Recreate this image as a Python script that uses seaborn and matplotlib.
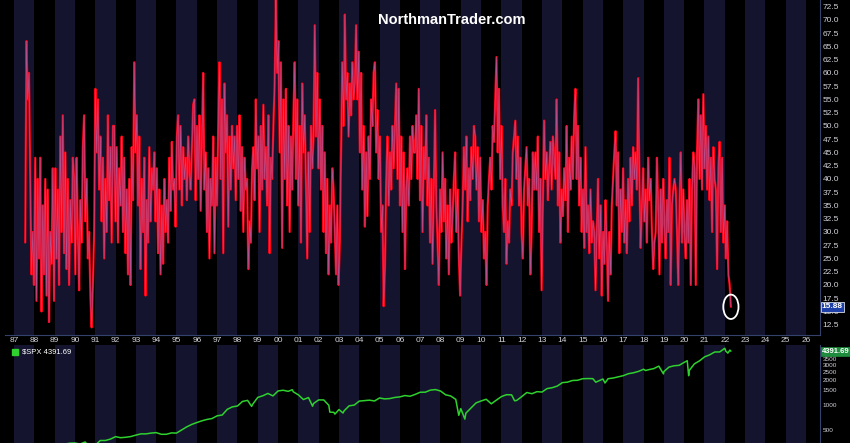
import numpy as np
import matplotlib
matplotlib.use("Agg")
import matplotlib.pyplot as plt
import seaborn as sns
from matplotlib.patches import Ellipse
from matplotlib import ticker

# AAII style bullish % readings (about 16 readings per year)
bull_1987_1995 = [
    28, 66, 55, 60, 40, 22, 30,
    20, 44, 17, 40, 25, 44, 15, 35, 22, 40, 18, 38, 13, 30, 24, 42,
    17, 42, 25, 38, 20, 48, 30, 52, 26, 45, 23, 40, 20, 36, 28, 44,
    40, 22, 44, 30, 19, 36, 28, 46, 52, 32, 40, 25, 30, 18, 12, 20,
    30, 57, 45, 55, 38, 48, 32, 44, 25, 40, 30, 52, 36, 46, 28, 50,
    50, 32, 46, 28, 42, 35, 48, 30, 44, 26, 38, 22, 40, 20, 46, 36,
    62, 45, 52, 35, 48, 23, 40, 30, 44, 18, 36, 28, 46, 32, 42, 38,
    45, 32, 42, 26, 38, 22, 35, 24, 40, 30, 36, 28, 44, 34, 47, 38,
    40, 31, 48, 52, 38, 50, 35, 46, 40, 44, 36, 48, 42, 38, 46, 54,
]
bull_1996_2005 = [
    55, 36, 50, 40, 52, 34, 48, 60, 38, 45, 30, 42, 25, 40, 35, 48,
    26, 44, 35, 50, 62, 40, 55, 26, 58, 45, 52, 31, 48, 38, 50, 42,
    48, 36, 50, 40, 52, 34, 46, 30, 44, 38, 40, 23, 32, 28, 42, 46,
    36, 55, 42, 48, 30, 50, 38, 54, 40, 46, 35, 52, 26, 44, 40, 50,
    58, 74, 60, 66, 45, 62, 27, 55, 40, 57, 35, 50, 30, 48, 38, 52,
    62, 40, 55, 35, 50, 28, 58, 45, 52, 38, 25, 45, 30, 50, 42, 48,
    69, 48, 60, 42, 55, 38, 50, 30, 45, 26, 40, 22, 35, 28, 42, 38,
    30, 22, 35, 20, 28, 45, 62, 50, 71, 55, 60, 48, 58, 52, 62, 55,
    58, 69, 55, 64, 45, 60, 38, 50, 31, 45, 33, 48, 40, 55, 50, 60,
    62, 45, 53, 40, 48, 30, 35, 16, 23, 40, 48, 35, 45, 38, 50, 42,
]
bull_2006_2015 = [
    50, 58, 40, 57, 35, 48, 30, 45, 23, 38, 42, 35, 48, 40, 50, 45,
    45, 52, 40, 57, 36, 50, 30, 46, 40, 52, 35, 44, 28, 40, 24, 38,
    53, 35, 28, 20, 38, 30, 45, 32, 40, 25, 35, 22, 38, 28, 33, 40,
    45, 30, 38, 25, 18, 28, 35, 46, 38, 48, 32, 42, 36, 46, 40, 50,
    48, 38, 46, 32, 44, 30, 36, 25, 30, 20, 35, 40, 44, 38, 50, 47,
    55, 63, 45, 57, 40, 50, 35, 30, 40, 24, 32, 28, 38, 35, 45, 48,
    51, 40, 48, 35, 44, 30, 25, 38, 42, 46, 35, 40, 22, 30, 45, 38,
    45, 38, 48, 30, 40, 19, 35, 51, 40, 45, 36, 42, 47, 38, 48, 44,
    40, 55, 35, 45, 28, 38, 33, 42, 36, 50, 30, 44, 38, 48, 40, 52,
    57, 40, 50, 35, 44, 30, 38, 27, 46, 30, 35, 26, 38, 28, 32, 30,
]
bull_2016_2022 = [
    19, 30, 40, 25, 35, 18, 30, 24, 36, 28, 17, 30, 22, 35, 40, 45,
    49, 35, 45, 26, 38, 30, 42, 28, 36, 26, 40, 32, 44, 35, 46, 40,
    45, 38, 59, 40, 27, 35, 42, 32, 38, 28, 44, 36, 40, 30, 23, 28,
    30, 44, 35, 22, 38, 28, 40, 32, 25, 36, 30, 44, 20, 35, 38, 40,
    38, 30, 20, 35, 45, 28, 38, 30, 25, 36, 28, 40, 20, 38, 45, 42,
    20, 45, 55, 40, 52, 38, 56, 42, 50, 38, 48, 36, 44, 30, 46, 40,
    38, 23, 42, 47, 30, 44, 28, 35, 25, 32, 22, 20, 15.88,
]
bull_first, bull_last = 1987.55, 2022.3

# S&P 500 closes (decimal year, value)
spx_dates = [
    1987.0, 1987.25, 1987.6, 1987.8, 1988.0, 1988.25, 1988.5, 1988.75,
    1989.0, 1989.25, 1989.5, 1989.75, 1990.0, 1990.25, 1990.5, 1990.8,
    1991.0, 1991.25, 1991.5, 1991.75, 1992.0, 1992.25, 1992.5, 1992.75,
    1993.0, 1993.25, 1993.5, 1993.75, 1994.0, 1994.25, 1994.5, 1994.75,
    1995.0, 1995.25, 1995.5, 1995.75, 1996.0, 1996.25, 1996.5, 1996.75,
    1997.0, 1997.25, 1997.5, 1997.75, 1998.0, 1998.25, 1998.5, 1998.7,
    1998.75, 1999.0, 1999.25, 1999.5, 1999.75, 2000.0, 2000.25, 2000.5,
    2000.7, 2000.75, 2001.0, 2001.25, 2001.5, 2001.7, 2001.75, 2002.0,
    2002.25, 2002.5, 2002.55, 2002.75, 2002.8, 2003.0, 2003.2, 2003.25,
    2003.5, 2003.75, 2004.0, 2004.25, 2004.5, 2004.75, 2005.0, 2005.25,
    2005.5, 2005.75, 2006.0, 2006.25, 2006.5, 2006.75, 2007.0, 2007.25,
    2007.5, 2007.75, 2008.0, 2008.25, 2008.5, 2008.75, 2008.9, 2009.0,
    2009.2, 2009.25, 2009.5, 2009.75, 2010.0, 2010.25, 2010.5, 2010.75,
    2011.0, 2011.25, 2011.5, 2011.65, 2011.75, 2012.0, 2012.25, 2012.5,
    2012.75, 2013.0, 2013.25, 2013.5, 2013.75, 2014.0, 2014.25, 2014.5,
    2014.75, 2015.0, 2015.25, 2015.5, 2015.65, 2015.75, 2016.0, 2016.1,
    2016.25, 2016.5, 2016.75, 2017.0, 2017.25, 2017.5, 2017.75, 2018.0,
    2018.1, 2018.25, 2018.5, 2018.75, 2018.98, 2019.0, 2019.25, 2019.5,
    2019.75, 2020.0, 2020.15, 2020.22, 2020.25, 2020.5, 2020.75, 2021.0,
    2021.25, 2021.5, 2021.75, 2022.0, 2022.05, 2022.15, 2022.25, 2022.3,
]
spx_close = [
    246, 292, 330, 225, 250, 260, 272, 272,
    280, 295, 340, 348, 350, 340, 360, 300,
    330, 375, 375, 390, 417, 405, 410, 418,
    435, 450, 450, 460, 466, 445, 445, 462,
    460, 500, 545, 584, 615, 645, 670, 687,
    740, 757, 885, 947, 970, 1100, 1133, 960,
    1017, 1229, 1286, 1372, 1282, 1469, 1498, 1454,
    1520, 1436, 1320, 1160, 1224, 965, 1040, 1148,
    1147, 989, 820, 815, 776, 880, 800, 848,
    975, 995, 1111, 1126, 1140, 1114, 1211, 1180,
    1191, 1228, 1248, 1294, 1270, 1335, 1418, 1420,
    1503, 1526, 1468, 1322, 1280, 1166, 750, 903,
    676, 797, 919, 1057, 1115, 1169, 1030, 1141,
    1257, 1325, 1320, 1120, 1131, 1257, 1408, 1362,
    1440, 1426, 1569, 1606, 1681, 1848, 1872, 1960,
    1972, 2058, 2067, 2063, 1870, 1920, 2043, 1830,
    2059, 2098, 2168, 2238, 2362, 2423, 2519, 2673,
    2580, 2640, 2718, 2913, 2351, 2506, 2834, 2941,
    2976, 3230, 3380, 2237, 2584, 3100, 3363, 3756,
    3972, 4297, 4307, 4766, 4400, 4170, 4530, 4392,
]
spx_last = "4391.69"
bull_now = "15.88"

year_ticks = list(range(1987, 2027))
year_labels = ["87", "88", "89", "90", "91", "92", "93", "94", "95", "96",
               "97", "98", "99", "00", "01", "02", "03", "04", "05", "06",
               "07", "08", "09", "10", "11", "12", "13", "14", "15", "16",
               "17", "18", "19", "20", "21", "22", "23", "24", "25", "26"]
bull_ticks = [12.5, 15, 17.5, 20, 22.5, 25, 27.5, 30, 32.5, 35, 37.5, 40, 42.5,
              45, 47.5, 50, 52.5, 55, 57.5, 60, 62.5, 65, 67.5, 70, 72.5]
spx_ticks = [500, 1000, 1500, 2000, 2500, 3000, 3500, 4000]

bull = np.array(bull_1987_1995 + bull_1996_2005 + bull_2006_2015 + bull_2016_2022)
bull_dates = np.linspace(bull_first, bull_last, len(bull))

sns.set_style("dark", {"axes.facecolor": "black", "figure.facecolor": "black"})
plt.rcParams["font.family"] = ["Liberation Sans", "DejaVu Sans"]

BAND = "#14142e"
SPINE = "#34416a"
TXT = "#d2d2da"

fig = plt.figure(figsize=(8.5, 4.43), dpi=100)
ax = fig.add_axes([0.006, 0.2438, 0.959, 0.7562])
ax2 = fig.add_axes([0.006, 0.0, 0.959, 0.221])

for a in (ax, ax2):
    a.set_facecolor("black")
    for y in year_ticks[::2]:
        a.axvspan(y, y + 1, color=BAND, lw=0, zorder=0)
    a.set_xlim(1986.56, 2026.7)
    for s in ("top", "left"):
        a.spines[s].set_visible(False)
    a.spines["right"].set_color(SPINE)
    a.spines["bottom"].set_color(SPINE)
    a.spines["right"].set_linewidth(0.8)
    a.spines["bottom"].set_linewidth(0.8)
    a.grid(False)
    a.yaxis.tick_right()
    a.set_xlabel("")
    a.set_ylabel("")

# upper panel: sentiment
sns.lineplot(x=bull_dates, y=bull, ax=ax, color="#ff0014", linewidth=1.6,
             sort=False, errorbar=None, zorder=3)
sns.lineplot(x=bull_dates, y=bull, ax=ax, color="#7a8ae6", linewidth=0.45,
             alpha=0.6, sort=False, errorbar=None, zorder=4)
ax.set_ylim(10.56, 73.76)
ax.set_yticks(bull_ticks)
ax.yaxis.set_major_formatter(ticker.FormatStrFormatter("%.1f"))
ax.set_xticks(year_ticks)
ax.set_xticklabels(year_labels)
ax.tick_params(axis="x", length=0, pad=1.5, labelsize=6, colors=TXT)
ax.tick_params(axis="y", length=0, pad=1.5, labelsize=6, colors=TXT)
ax.add_patch(Ellipse((bull_dates[-1], bull[-1]), width=0.75, height=4.6,
                     fill=False, edgecolor="white", lw=1.3, zorder=5))
ax.text(1.002, bull[-1], bull_now, transform=ax.get_yaxis_transform(),
        ha="left", va="center", fontsize=6, fontweight="bold", color="white",
        bbox=dict(boxstyle="square,pad=0.15", facecolor="#1f3fa8",
                  edgecolor="white", lw=0.5), zorder=6, clip_on=False)

# lower panel: S&P 500
sns.lineplot(x=spx_dates, y=spx_close, ax=ax2, color="#2ed12e", linewidth=1.1,
             sort=False, errorbar=None, zorder=3)
ax2.set_yscale("log")
ax2.set_ylim(350, 5200)
ax2.yaxis.set_major_locator(ticker.FixedLocator(spx_ticks))
ax2.yaxis.set_minor_locator(ticker.NullLocator())
ax2.yaxis.set_major_formatter(ticker.FixedFormatter([str(t) for t in spx_ticks]))
ax2.set_xticks([])
ax2.tick_params(axis="y", length=0, pad=1.5, labelsize=4.6, colors=TXT)
ax2.text(1.002, spx_close[-1], spx_last, transform=ax2.get_yaxis_transform(),
         ha="left", va="center", fontsize=5.5, fontweight="bold", color="white",
         bbox=dict(boxstyle="square,pad=0.12", facecolor="#1d8c3c",
                   edgecolor="#1d8c3c", lw=0.5), zorder=6, clip_on=False)
ax2.plot([0.012], [0.93], marker="s", markersize=4, color="#2ed12e",
         transform=ax2.transAxes, clip_on=False)
ax2.text(0.021, 0.93, "\\$SPX " + spx_last, transform=ax2.transAxes,
         ha="left", va="center", fontsize=5.5, color="white")

fig.text(0.531, 0.955, "NorthmanTrader.com", ha="center", va="center",
         fontsize=10.5, fontweight="bold", color="white")

fig.savefig("out.png", dpi=100, facecolor="black")
